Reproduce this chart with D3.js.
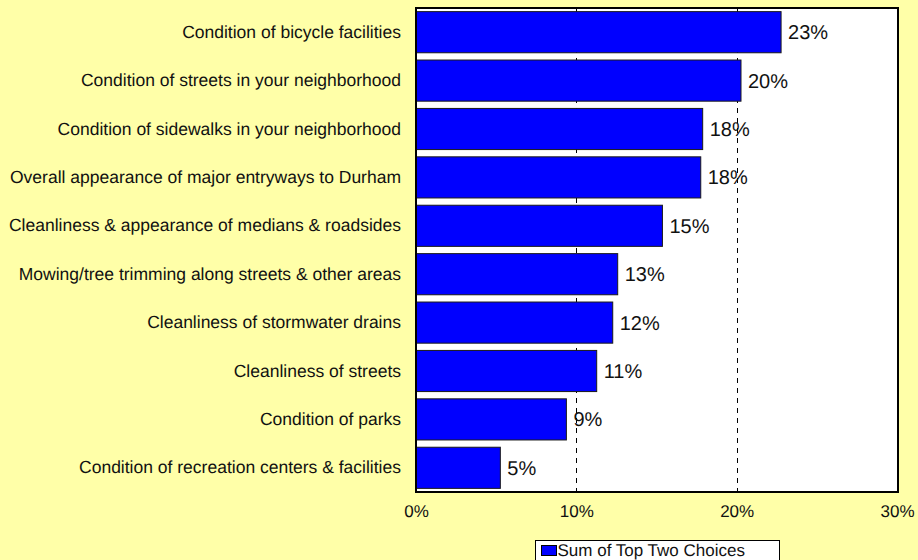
<!DOCTYPE html>
<html>
<head>
<meta charset="utf-8">
<script src="https://cdn.jsdelivr.net/npm/d3@7"></script>
<style>
    html, body { margin: 0; padding: 0; background: #FFFFA8; }
    svg { display: block; font-family: Arial, "Liberation Sans", sans-serif; text-rendering: geometricPrecision; }
</style>
</head>
<body>
<div id="chart"></div>
<script>
// categories, top to bottom
var categories = [
    'Condition of bicycle facilities',
    'Condition of streets in your neighborhood',
    'Condition of sidewalks in your neighborhood',
    'Overall appearance of major entryways to Durham',
    'Cleanliness & appearance of medians & roadsides',
    'Mowing/tree trimming along streets & other areas',
    'Cleanliness of stormwater drains',
    'Cleanliness of streets',
    'Condition of parks',
    'Condition of recreation centers & facilities'
];
var topTwoValues = [0.2277, 0.2027, 0.1788, 0.1776, 0.1537, 0.1258, 0.1227, 0.1127, 0.0938, 0.0526];
var xTicks = [0, 0.1, 0.2, 0.3];
var seriesName = 'Sum of Top Two Choices';

var width = 918, height = 560;
var margin = {top: 8, left: 416, right: 21, bottom: 68};

var svg = d3.select('#chart')
    .append('svg')
    .attr('width', width)
    .attr('height', height);

svg.append('rect')
    .attr('width', width)
    .attr('height', height)
    .attr('fill', '#FFFFA8');

var x = d3.scaleLinear()
    .domain([0, 0.3])
    .range([margin.left, width - margin.right]);

var y = d3.scaleBand()
    .domain(categories)
    .range([margin.top, height - margin.bottom])
    .paddingInner(0.15)
    .paddingOuter(0.075);

var fmt = d3.format('.0%');

// plot area
svg.append('rect')
    .attr('x', x(0))
    .attr('y', margin.top)
    .attr('width', x(0.3) - x(0) + 1)
    .attr('height', height - margin.bottom - margin.top)
    .attr('fill', '#fff');

// dashed gridlines
svg.append('g')
    .selectAll('line')
    .data(xTicks.slice(1, -1))
    .enter().append('line')
    .attr('x1', function(d) { return Math.round(x(d)) + 0.5; })
    .attr('x2', function(d) { return Math.round(x(d)) + 0.5; })
    .attr('y1', margin.top)
    .attr('y2', height - margin.bottom)
    .attr('stroke', '#000')
    .attr('stroke-width', 1)
    .attr('stroke-dasharray', '5,5');

// bars
svg.append('g')
    .selectAll('rect')
    .data(topTwoValues)
    .enter().append('rect')
    .attr('x', x(0))
    .attr('y', function(d, i) { return y(categories[i]); })
    .attr('width', function(d) { return x(d) - x(0); })
    .attr('height', y.bandwidth())
    .attr('fill', '#0000FF')
    .attr('stroke', '#1a1a1a')
    .attr('stroke-width', 1);

// value labels
svg.append('g')
    .selectAll('text')
    .data(topTwoValues)
    .enter().append('text')
    .attr('x', function(d) { return x(d) + 7; })
    .attr('y', function(d, i) { return y(categories[i]) + y.bandwidth() / 2; })
    .attr('dy', '0.35em')
    .attr('font-size', '20px')
    .attr('fill', '#111')
    .text(function(d) { return fmt(d); });

// plot frame
svg.append('rect')
    .attr('x', x(0))
    .attr('y', margin.top)
    .attr('width', x(0.3) - x(0) + 1)
    .attr('height', height - margin.bottom - margin.top)
    .attr('fill', 'none')
    .attr('stroke', '#000')
    .attr('stroke-width', 2);

// category axis
var yAxis = svg.append('g')
    .attr('transform', 'translate(' + x(0) + ',0)')
    .call(d3.axisLeft(y).tickSize(0).tickPadding(15));
yAxis.select('.domain').remove();
yAxis.selectAll('text')
    .attr('font-size', '17.5px')
    .attr('font-family', 'Arial, "Liberation Sans", sans-serif')
    .attr('fill', '#111');

// value axis
var xAxis = svg.append('g')
    .attr('transform', 'translate(0,' + (height - margin.bottom) + ')')
    .call(d3.axisBottom(x).tickValues(xTicks).tickFormat(fmt).tickSize(0).tickPadding(13));
xAxis.select('.domain').remove();
xAxis.selectAll('text')
    .attr('font-size', '17px')
    .attr('font-family', 'Arial, "Liberation Sans", sans-serif')
    .attr('fill', '#111');

// legend
var legend = svg.append('g').attr('transform', 'translate(535.5,540.5)');
legend.append('rect')
    .attr('width', 244)
    .attr('height', 30)
    .attr('fill', '#fff')
    .attr('stroke', '#000')
    .attr('stroke-width', 1);
legend.append('rect')
    .attr('x', 6)
    .attr('y', 5)
    .attr('width', 15)
    .attr('height', 10)
    .attr('fill', '#0000FF')
    .attr('stroke', '#000')
    .attr('stroke-width', 1);
legend.append('text')
    .attr('x', 22)
    .attr('y', 15.5)
    .attr('font-size', '17px')
    .attr('fill', '#111')
    .text(seriesName);
</script>
</body>
</html>
